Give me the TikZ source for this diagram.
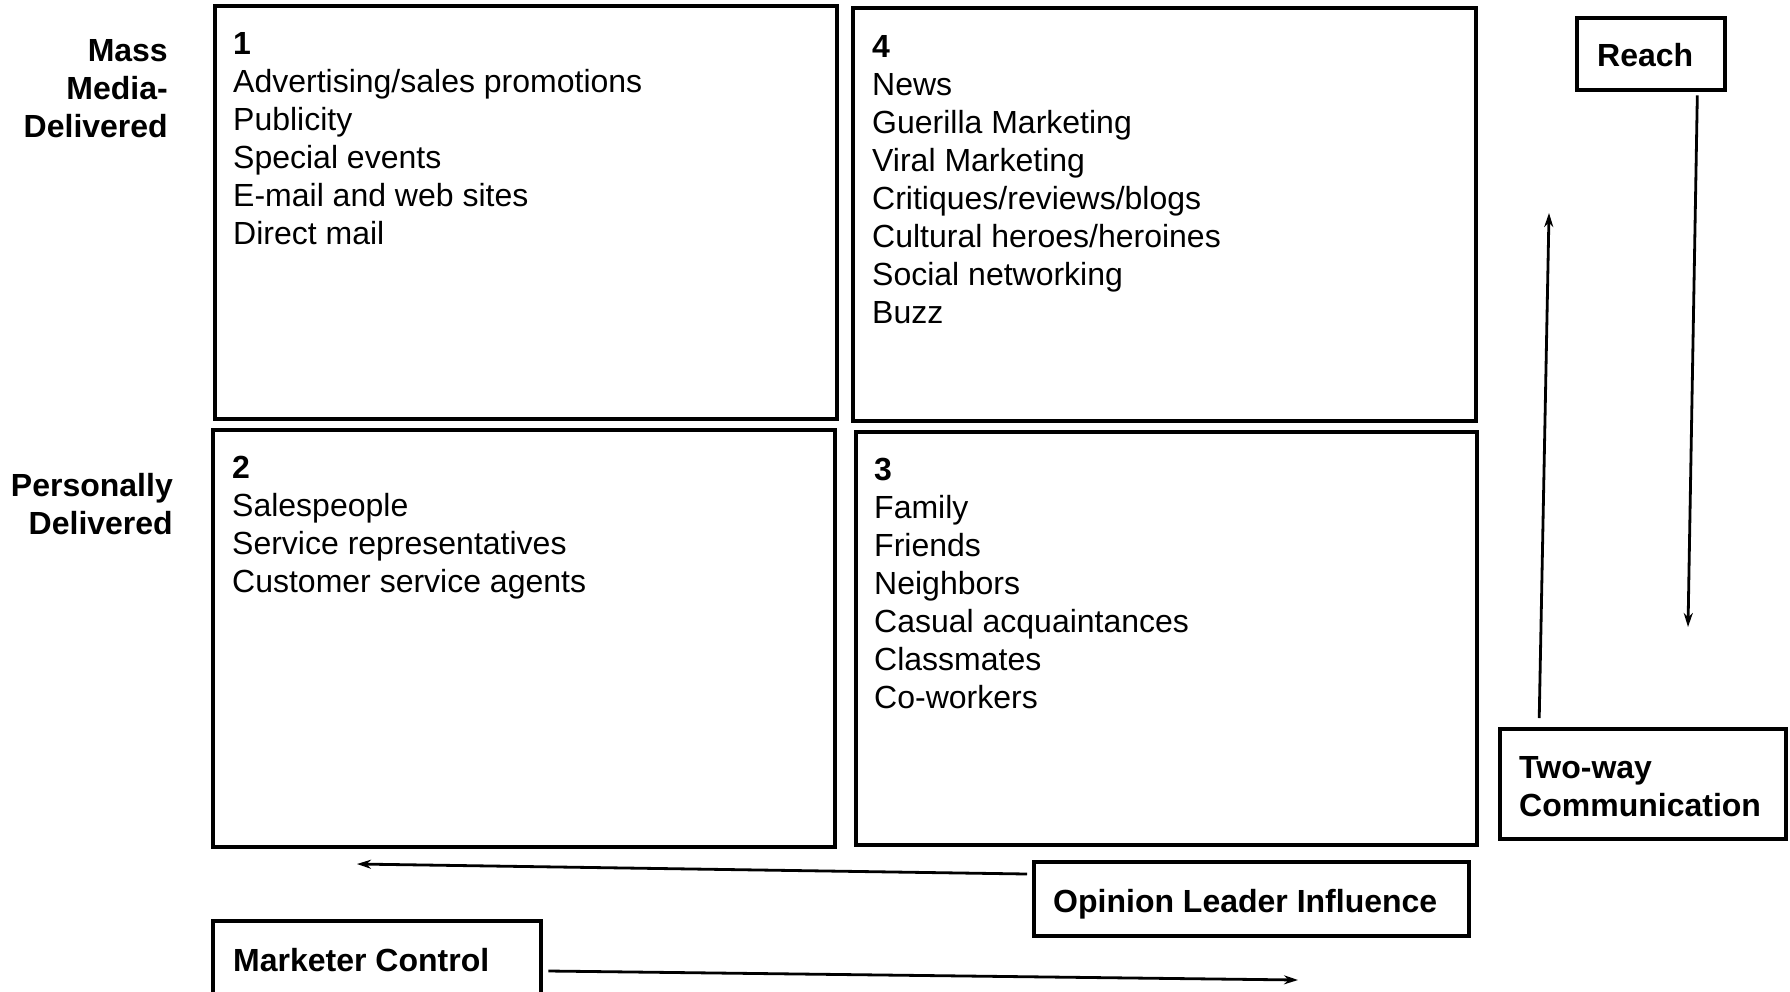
\documentclass[tikz,border=0pt]{standalone}
\usepackage{fontspec}
\setmainfont{Liberation Sans}
\usetikzlibrary{arrows.meta}
\tikzset{
  qbox/.style={draw, line width=3.2pt, inner sep=0pt},
  lbox/.style={draw, line width=3.2pt, inner sep=0pt},
  btext/.style={inner sep=0pt, align=left, font=\fontsize{32}{38}\selectfont},
  ltext/.style={inner sep=0pt, align=right, font=\bfseries\fontsize{32}{38}\selectfont},
  arr/.style={line width=2.8pt, -{Stealth[length=14pt,width=9pt]}},
}
\begin{document}
\begin{tikzpicture}[x=1pt,y=-1pt]
\useasboundingbox (0,0) rectangle (1790,991);
\clip (0,0) rectangle (1790,991);
% quadrant boxes
\draw[qbox] (215,6) rectangle (837,419);
\node[anchor=north west, inner sep=0pt, minimum width=622pt, minimum height=413pt] (b1) at (215,6) {};
\draw[qbox] (853,8) rectangle (1476,421);
\node[anchor=north west, inner sep=0pt, minimum width=623pt, minimum height=413pt] (b4) at (853,8) {};
\draw[qbox] (213,430) rectangle (835,847);
\node[anchor=north west, inner sep=0pt, minimum width=622pt, minimum height=417pt] (b2) at (213,430) {};
\draw[qbox] (856,432) rectangle (1477,845);
\node[anchor=north west, inner sep=0pt, minimum width=621pt, minimum height=413pt] (b3) at (856,432) {};
% quadrant texts
\node[btext, anchor=north west] (t1) at (233,32) {\textbf{1}\\Advertising/sales promotions\\Publicity\\Special events\\E-mail and web sites\\Direct mail};
\node[btext, anchor=north west] (t4) at (872,35) {\textbf{4}\\News\\Guerilla Marketing\\Viral Marketing\\Critiques/reviews/blogs\\Cultural heroes/heroines\\Social networking\\Buzz};
\node[btext, anchor=north west] (t2) at (232,456) {\textbf{2}\\Salespeople\\Service representatives\\Customer service agents};
\node[btext, anchor=north west] (t3) at (874,458) {\textbf{3}\\Family\\Friends\\Neighbors\\Casual acquaintances\\Classmates\\Co-workers};
% row labels
\node[ltext, anchor=north east] (mm) at (168,39) {Mass\\Media-\\Delivered};
\node[ltext, anchor=north east] (pd) at (173,473) {Personally\\Delivered};
% label boxes
\draw[lbox] (1577,18) rectangle (1725,90);
\node[anchor=north west, inner sep=0pt, minimum width=148pt, minimum height=72pt] (reach) at (1577,18) {};
\node[ltext, anchor=north west, align=left] (reacht) at (1597,43) {Reach};
\draw[lbox] (1500,729) rectangle (1786,839);
\node[anchor=north west, inner sep=0pt, minimum width=286pt, minimum height=110pt] (two) at (1500,729) {};
\node[ltext, anchor=north west, align=left] (twot) at (1519,756) {Two-way\\Communication};
\draw[lbox] (1034,862) rectangle (1469,936);
\node[anchor=north west, inner sep=0pt, minimum width=435pt, minimum height=74pt] (op) at (1034,862) {};
\node[ltext, anchor=north west, align=left] (opt) at (1053,889) {Opinion Leader Influence};
\draw[lbox] (213,921) rectangle (541,1010);
\node[anchor=north west, inner sep=0pt, minimum width=328pt, minimum height=89pt] (mc) at (213,921) {};
\node[ltext, anchor=north west, align=left] (mct) at (233,948) {Marketer Control};
% connectors
\coordinate (rEnd) at (1688,627);
\coordinate (tEnd) at (1549,213);
\coordinate (oEnd) at (357,864);
\coordinate (mEnd) at (1298,980);
\draw[arr, shorten <=5pt] ([xshift=-28pt]reach.south east) -- (rEnd);
\draw[arr, shorten <=11pt] ([xshift=39pt]two.north west) -- (tEnd);
\draw[arr] ([xshift=-7pt,yshift=-12pt]op.north west) -- (oEnd);
\draw[arr] ([xshift=7pt,yshift=-50pt]mc.north east) -- (mEnd);
\end{tikzpicture}
\end{document}
